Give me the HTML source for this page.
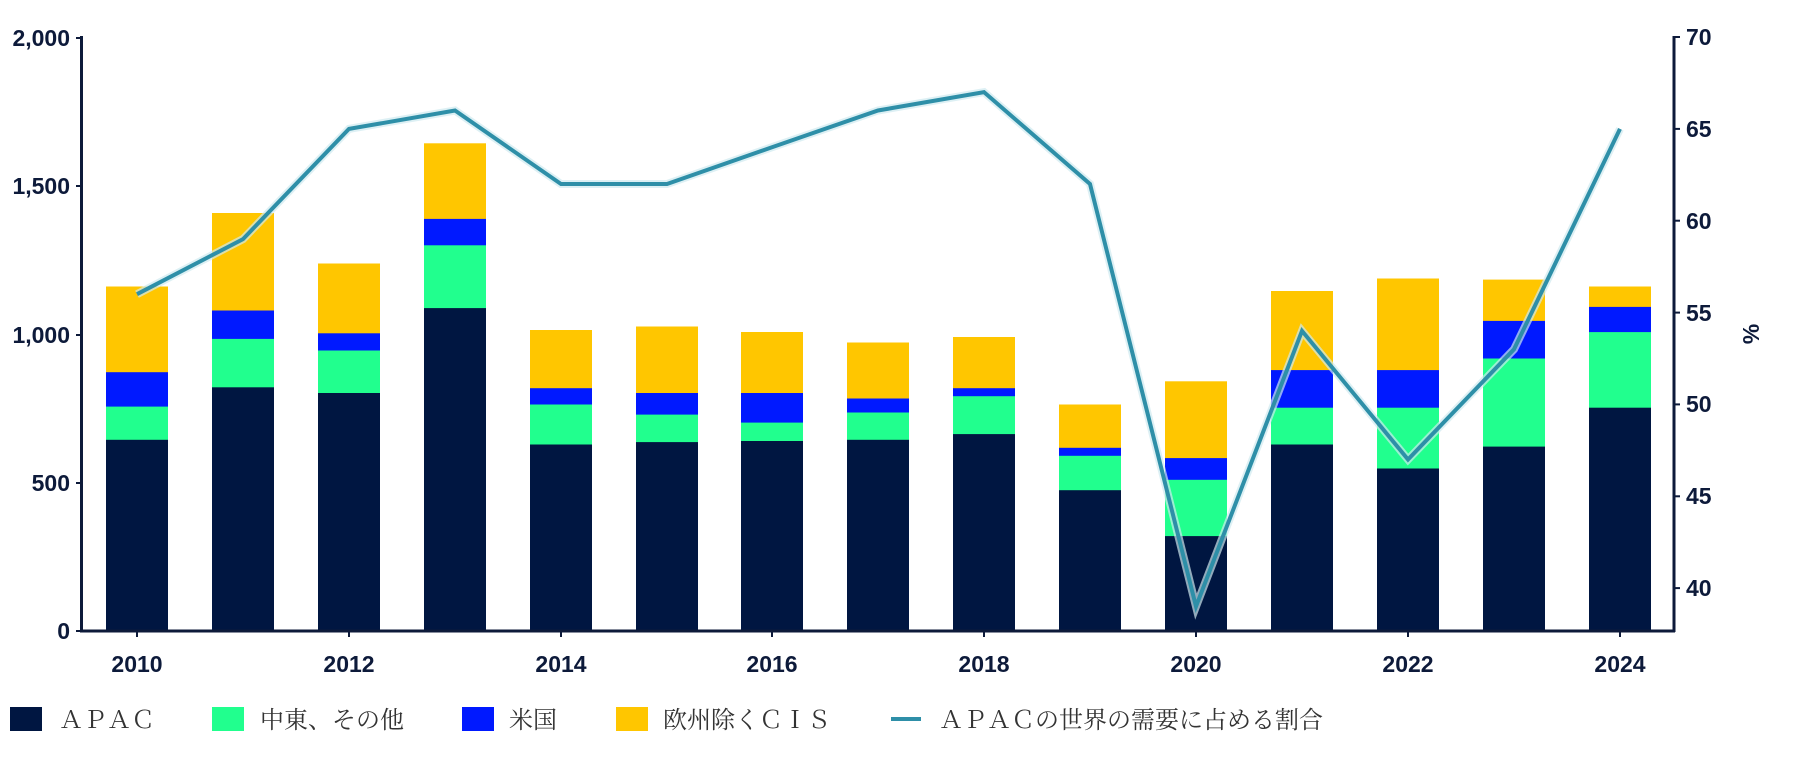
<!DOCTYPE html>
<html><head><meta charset="utf-8"><style>
html,body{margin:0;padding:0;background:#fff;width:1800px;height:763px;overflow:hidden}
svg{display:block}
.t{font-family:"Liberation Sans",sans-serif;font-weight:bold;font-size:23px;fill:#0d1a3a}
.lg{font-family:"Liberation Serif","Noto Serif CJK JP",serif;font-size:24px;fill:#333}
</style></head><body>
<svg width="1800" height="763" viewBox="0 0 1800 763" xmlns="http://www.w3.org/2000/svg">
<g id="bars">
<!-- yellow -->
<g fill="#FFC600">
<rect x="106" y="286.5" width="62" height="344.5"/><rect x="212" y="213" width="62" height="418"/>
<rect x="318" y="263.5" width="62" height="367.5"/><rect x="424" y="143.3" width="62" height="487.7"/>
<rect x="530" y="330" width="62" height="301"/><rect x="636" y="326.5" width="62" height="304.5"/>
<rect x="741" y="332" width="62" height="299"/><rect x="847" y="342.5" width="62" height="288.5"/>
<rect x="953" y="337" width="62" height="294"/><rect x="1059" y="404.5" width="62" height="226.5"/>
<rect x="1165" y="381.3" width="62" height="249.7"/><rect x="1271" y="291" width="62" height="340"/>
<rect x="1377" y="278.5" width="62" height="352.5"/><rect x="1483" y="279.6" width="62" height="351.4"/>
<rect x="1589" y="286.5" width="62" height="344.5"/>
</g>
<g fill="#0019FF">
<rect x="106" y="372.2" width="62" height="258.8"/><rect x="212" y="310.5" width="62" height="320.5"/>
<rect x="318" y="333.3" width="62" height="297.7"/><rect x="424" y="218.9" width="62" height="412.1"/>
<rect x="530" y="388.2" width="62" height="242.8"/><rect x="636" y="393" width="62" height="238"/>
<rect x="741" y="393" width="62" height="238"/><rect x="847" y="398.5" width="62" height="232.5"/>
<rect x="953" y="388.2" width="62" height="242.8"/><rect x="1059" y="447.8" width="62" height="183.2"/>
<rect x="1165" y="458.1" width="62" height="172.9"/><rect x="1271" y="370.1" width="62" height="260.9"/>
<rect x="1377" y="370.1" width="62" height="260.9"/><rect x="1483" y="320.9" width="62" height="310.1"/>
<rect x="1589" y="306.9" width="62" height="324.1"/>
</g>
<g fill="#21FF8E">
<rect x="106" y="406.6" width="62" height="224.4"/><rect x="212" y="338.9" width="62" height="292.1"/>
<rect x="318" y="350.5" width="62" height="280.5"/><rect x="424" y="245.3" width="62" height="385.7"/>
<rect x="530" y="404.5" width="62" height="226.5"/><rect x="636" y="414.6" width="62" height="216.4"/>
<rect x="741" y="422.6" width="62" height="208.4"/><rect x="847" y="412.5" width="62" height="218.5"/>
<rect x="953" y="396.2" width="62" height="234.8"/><rect x="1059" y="455.8" width="62" height="175.2"/>
<rect x="1165" y="479.8" width="62" height="151.2"/><rect x="1271" y="407.7" width="62" height="223.3"/>
<rect x="1377" y="407.7" width="62" height="223.3"/><rect x="1483" y="358.5" width="62" height="272.5"/>
<rect x="1589" y="332.1" width="62" height="298.9"/>
</g>
<g fill="#001641">
<rect x="106" y="439.8" width="62" height="191.2"/><rect x="212" y="387.3" width="62" height="243.7"/>
<rect x="318" y="393" width="62" height="238"/><rect x="424" y="308.1" width="62" height="322.9"/>
<rect x="530" y="444.5" width="62" height="186.5"/><rect x="636" y="442.1" width="62" height="188.9"/>
<rect x="741" y="441" width="62" height="190"/><rect x="847" y="439.8" width="62" height="191.2"/>
<rect x="953" y="434.1" width="62" height="196.9"/><rect x="1059" y="490.2" width="62" height="140.8"/>
<rect x="1165" y="536.1" width="62" height="94.9"/><rect x="1271" y="444.5" width="62" height="186.5"/>
<rect x="1377" y="468.5" width="62" height="162.5"/><rect x="1483" y="446.6" width="62" height="184.4"/>
<rect x="1589" y="407.7" width="62" height="223.3"/>
</g>
</g>
<polyline fill="none" stroke="#cfe9ef" stroke-opacity="0.7" stroke-width="8" stroke-linejoin="miter" points="137,294.2 243,239.1 349,128.9 455,110.5 561,184 667,184 772,147.2 878,110.5 984,92.1 1090,184 1196,606.5 1302,330.9 1408,459.5 1514,349.3 1620,128.9"/>
<polyline fill="none" stroke="#2E8FA8" stroke-width="4" stroke-linejoin="miter" points="137,294.2 243,239.1 349,128.9 455,110.5 561,184 667,184 772,147.2 878,110.5 984,92.1 1090,184 1196,606.5 1302,330.9 1408,459.5 1514,349.3 1620,128.9"/>
<!-- axes -->
<g stroke="#0d1a3a" stroke-width="3" fill="none">
<line x1="81.5" y1="36" x2="81.5" y2="632"/>
<line x1="80" y1="631" x2="1675" y2="631"/>
<line x1="1674" y1="36" x2="1674" y2="632"/>
</g>
<g stroke="#0d1a3a" stroke-width="2">
<line x1="76" y1="38" x2="81" y2="38"/><line x1="76" y1="186" x2="81" y2="186"/><line x1="76" y1="335" x2="81" y2="335"/><line x1="76" y1="483" x2="81" y2="483"/><line x1="76" y1="631" x2="81" y2="631"/>
<line x1="137" y1="631" x2="137" y2="637"/><line x1="349" y1="631" x2="349" y2="637"/><line x1="561" y1="631" x2="561" y2="637"/><line x1="772" y1="631" x2="772" y2="637"/><line x1="984" y1="631" x2="984" y2="637"/><line x1="1196" y1="631" x2="1196" y2="637"/><line x1="1408" y1="631" x2="1408" y2="637"/><line x1="1620" y1="631" x2="1620" y2="637"/>
<line x1="1674" y1="37" x2="1680" y2="37"/><line x1="1674" y1="128.9" x2="1680" y2="128.9"/><line x1="1674" y1="220.7" x2="1680" y2="220.7"/><line x1="1674" y1="312.6" x2="1680" y2="312.6"/><line x1="1674" y1="404.4" x2="1680" y2="404.4"/><line x1="1674" y1="496.3" x2="1680" y2="496.3"/><line x1="1674" y1="588.1" x2="1680" y2="588.1"/>
</g>
<g class="t" text-anchor="end">
<text x="70" y="46">2,000</text><text x="70" y="194">1,500</text><text x="70" y="343">1,000</text><text x="70" y="491">500</text><text x="70" y="639">0</text>
</g>
<g class="t">
<text x="1686" y="45">70</text><text x="1686" y="137">65</text><text x="1686" y="229">60</text><text x="1686" y="321">55</text><text x="1686" y="412">50</text><text x="1686" y="504">45</text><text x="1686" y="596">40</text>
<text transform="translate(1759,334) rotate(-90)" text-anchor="middle">%</text>
</g>
<g class="t" text-anchor="middle">
<text x="137" y="672">2010</text><text x="349" y="672">2012</text><text x="561" y="672">2014</text><text x="772" y="672">2016</text><text x="984" y="672">2018</text><text x="1196" y="672">2020</text><text x="1408" y="672">2022</text><text x="1620" y="672">2024</text>
</g>
<!-- legend -->
<rect x="10" y="707" width="32" height="24" fill="#001641"/>
<text class="lg" x="59" y="728">ＡＰＡＣ</text>
<rect x="212" y="707" width="32" height="24" fill="#21FF8E"/>
<text class="lg" x="260" y="728">中東、その他</text>
<rect x="462" y="707" width="32" height="24" fill="#0019FF"/>
<text class="lg" x="509" y="728">米国</text>
<rect x="616" y="707" width="32" height="24" fill="#FFC600"/>
<text class="lg" x="663" y="728">欧州除くＣＩＳ</text>
<line x1="891" y1="719" x2="921" y2="719" stroke="#2E8FA8" stroke-width="4"/>
<text class="lg" x="939" y="728">ＡＰＡＣの世界の需要に占める割合</text>
</svg>
</body></html>
